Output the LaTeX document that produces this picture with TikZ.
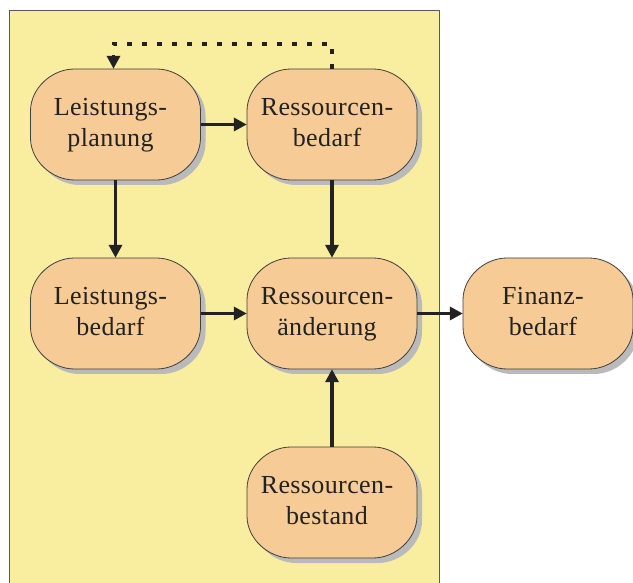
\documentclass[tikz,border=0pt]{standalone}
\usepackage{fontspec}
\setmainfont{Liberation Serif}[LetterSpace=1.5]
\usetikzlibrary{shadows,arrows.meta}
\definecolor{bgyellow}{HTML}{F9EDA0}
\definecolor{boxorange}{HTML}{F6CB95}
\definecolor{ink}{HTML}{222222}
\newcommand\blob[3]{%
  \begin{scope}[shift={(#2)}]
  \path[boxshape] (-41,-55.5) -- (41,-55.5)
    .. controls (64,-55.5) and (85,-36) .. (85,-13.5) -- (85,13.5)
    .. controls (85,36) and (64,55.5) .. (41,55.5) -- (-41,55.5)
    .. controls (-64,55.5) and (-85,36) .. (-85,13.5) -- (-85,-13.5)
    .. controls (-85,-36) and (-64,-55.5) .. (-41,-55.5) -- cycle;
  \end{scope}
  \node[boxtext] (#1) at (#2) {\begin{tabular}{@{}c@{}}#3\end{tabular}\hspace*{10pt}};}
\begin{document}
\begin{tikzpicture}[x=1pt,y=-1pt,
  boxshape/.style={draw=black!75, line width=0.8pt, fill=boxorange,
    drop shadow={shadow xshift=5pt, shadow yshift=-5pt, fill=black!27, opacity=1}},
  boxtext/.style={minimum width=170pt, minimum height=111pt, inner sep=0pt,
    font=\fontsize{26}{31}\selectfont, text=ink},
  conn/.style={draw=ink, line width=3.5pt, -{Triangle[length=13pt,width=13pt]}},
  dotconn/.style={conn, dash pattern=on 5pt off 10pt},
  panel/.style={draw=black!65, line width=0.8pt, fill=bgyellow}
]
\useasboundingbox (0,0) rectangle (633,583);
\path[panel] (9.5,10) rectangle (439.5,590);

\blob{lp}{115.5,124.5}{Leistungs-\\planung}
\blob{rb}{332,124.5}{Ressourcen-\\bedarf}
\blob{lb}{115.5,313.5}{Leistungs-\\bedarf}
\blob{ra}{332,313.5}{Ressourcen-\\änderung}
\blob{fb}{548,313.5}{Finanz-\\bedarf}
\blob{rs}{332,502.5}{Ressourcen-\\bestand}

\draw[conn] (lp) -- (rb);
\draw[conn] (lp) -- (lb);
\draw[conn] (rb) -- (ra);
\draw[conn] (lb) -- (ra);
\draw[conn] (ra) -- (fb);
\draw[conn] (rs) -- (ra);
\draw[dotconn] (rb.north) -- ++(0,-25) -| ([xshift=-2pt]lp.north);
\end{tikzpicture}
\end{document}
